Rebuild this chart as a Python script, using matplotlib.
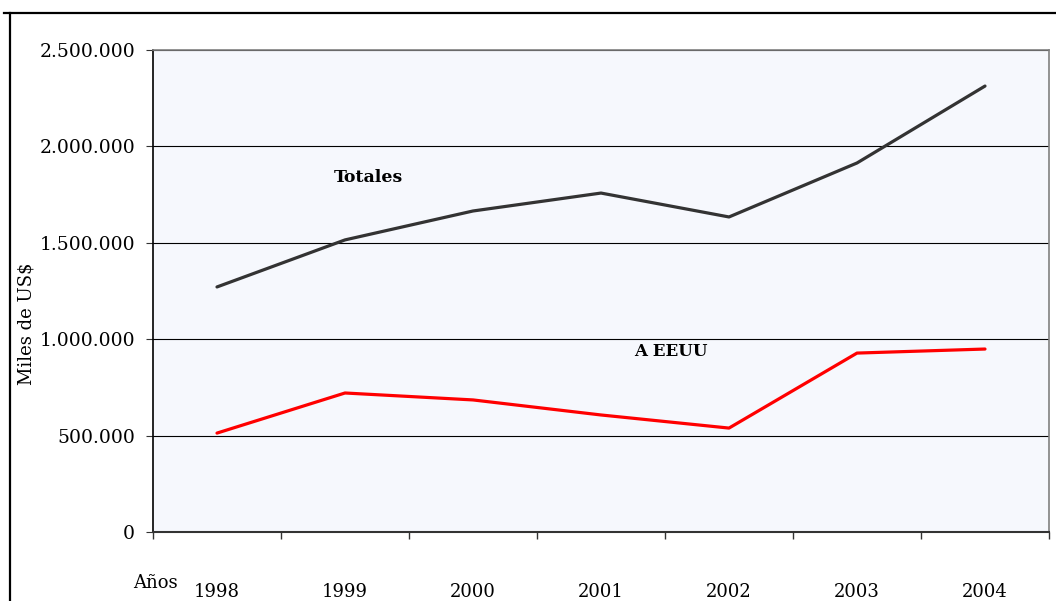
import matplotlib
matplotlib.use("Agg")
import matplotlib.pyplot as plt
from matplotlib.lines import Line2D
from matplotlib.ticker import FuncFormatter, MultipleLocator, FixedLocator

years = ["1998", "1999", "2000", "2001", "2002", "2003", "2004"]
totales = [1271000, 1515000, 1665000, 1758000, 1634000, 1914000, 2313000]
a_eeuu = [513000, 721000, 685000, 607000, 539000, 928000, 949000]

plt.rcParams['font.family'] = ['DejaVu Serif']

W, H = 1056, 601
fig = plt.figure(figsize=(W / 100, H / 100), dpi=100)
ax = fig.add_axes([153 / W, 69 / H, 896 / W, 482 / H])
ax.set_facecolor('#f6f8fd')

x = list(range(len(years)))
ax.plot(x, totales, color='#333333', lw=2.3, solid_capstyle='round', zorder=3)
ax.plot(x, a_eeuu, color='#ff0000', lw=2.3, solid_capstyle='round', zorder=3)

ax.set_xlim(-0.5, len(years) - 0.5)
ax.set_ylim(0, 2500000)
ax.yaxis.set_major_locator(MultipleLocator(500000))
ax.yaxis.set_major_formatter(FuncFormatter(lambda v, p: f"{int(v):,}".replace(",", ".")))
ax.grid(axis='y', color='black', lw=0.8, zorder=1)
ax.set_axisbelow(True)

ax.set_xticks(x)
ax.set_xticklabels(years)
ax.xaxis.set_minor_locator(FixedLocator([i - 0.5 for i in range(len(years) + 1)]))
ax.tick_params(axis='x', which='major', length=0, pad=37, labelsize=13)
ax.tick_params(axis='x', which='minor', length=5, width=1, color='#333333', direction='out')
ax.tick_params(axis='y', length=5, width=0.8, direction='out', pad=8, labelsize=13.5, color='#333333')

for s in ['top', 'right']:
    ax.spines[s].set_color('#808080')
    ax.spines[s].set_linewidth(1.2)
ax.spines['left'].set_color('black')
ax.spines['left'].set_linewidth(1.2)
ax.spines['bottom'].set_color('#333333')
ax.spines['bottom'].set_linewidth(1.5)

ax.text(1.18, 1841000, "Totales", fontsize=12.5, fontweight='bold', ha='center', va='center', zorder=4)
ax.text(3.547, 934000, "A EEUU", fontsize=12, fontweight='bold', ha='center', va='center', zorder=4)

fig.text(27 / W, 1 - 324 / H, r"Miles de US\$", rotation=90, ha='center', va='center', fontsize=13)
fig.text(155 / W, 1 - 583 / H, "Años", ha='center', va='center', fontsize=13)

fig.add_artist(Line2D([4 / W, 1.0], [1 - 13 / H, 1 - 13 / H], color='black', lw=1.6, transform=fig.transFigure))
fig.add_artist(Line2D([10 / W, 10 / W], [1 - 13 / H, 0], color='black', lw=1.6, transform=fig.transFigure))

fig.savefig("out.png", dpi=100)
